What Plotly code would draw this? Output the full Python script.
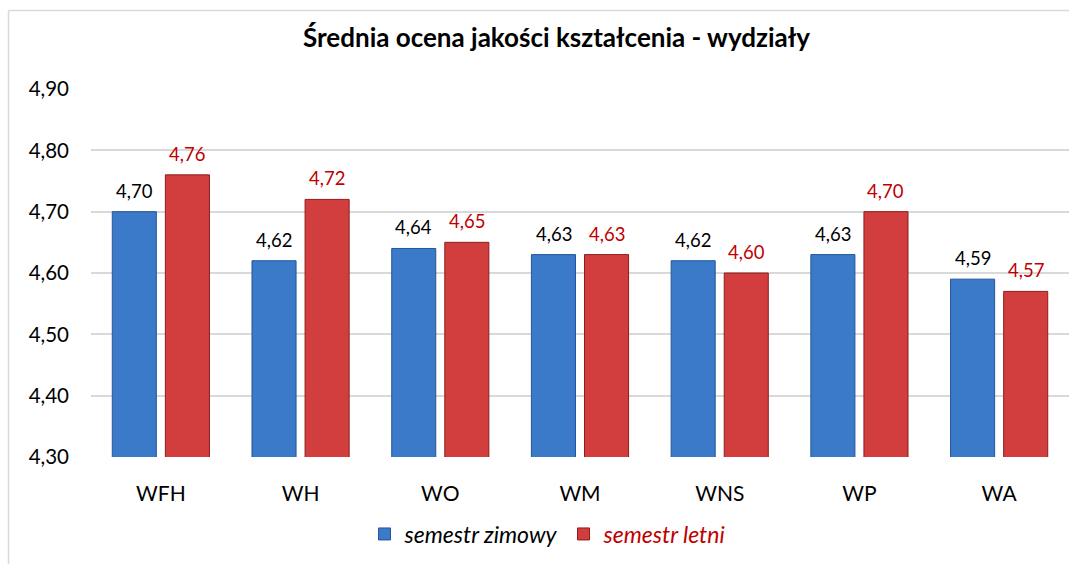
import plotly.graph_objects as go

categories = ["WFH", "WH", "WO", "WM", "WNS", "WP", "WA"]
semestr_zimowy = [4.70, 4.62, 4.64, 4.63, 4.62, 4.63, 4.59]
semestr_letni = [4.76, 4.72, 4.65, 4.63, 4.60, 4.70, 4.57]
y_ticks = [4.30, 4.40, 4.50, 4.60, 4.70, 4.80, 4.90]

FONT = "Lato"
BLUE = "#3A7AC8"
BLUE_EDGE = "#24569A"
RED = "#D23D3D"
RED_EDGE = "#8E1C1C"
LABEL_RED = "#C00000"

W, H = 1069, 564
PX_L, PX_R, PX_T, PX_B = 91, 1069, 89, 457


def px(x):
    return (x - PX_L) / (PX_R - PX_L)


def py(y):
    return (PX_B - y) / (PX_B - PX_T)


def fmt(v):
    return f"{v:.2f}".replace(".", ",")


fig = go.Figure()
fig.add_trace(go.Bar(
    x=categories, y=semestr_zimowy,
    name="<i>semestr zimowy</i>",
    marker=dict(color=BLUE, line=dict(color=BLUE_EDGE, width=1)),
))
fig.add_trace(go.Bar(
    x=categories, y=semestr_letni,
    name=f"<i><span style='color:{LABEL_RED}'>semestr letni</span></i>",
    marker=dict(color=RED, line=dict(color=RED_EDGE, width=1)),
))

annotations = []
for i, c in enumerate(categories):
    annotations.append(dict(x=c, y=semestr_zimowy[i], xref="x", yref="y",
                            text=fmt(semestr_zimowy[i]), showarrow=False,
                            xshift=-26.5, yshift=21, yanchor="middle",
                            font=dict(family=FONT, size=18.5, color="#000000")))
    annotations.append(dict(x=c, y=semestr_letni[i], xref="x", yref="y",
                            text=fmt(semestr_letni[i]), showarrow=False,
                            xshift=26.5, yshift=21, yanchor="middle",
                            font=dict(family=FONT, size=18.5, color=LABEL_RED)))

annotations.append(dict(
    text="<b>Średnia ocena jakości kształcenia - wydziały</b>",
    xref="paper", yref="paper", x=px(556), y=py(37),
    xanchor="center", yanchor="middle", showarrow=False,
    font=dict(family=FONT, size=26, color="#000000")))

border = dict(color="#D9D9D9", width=1.5)
fig.update_layout(
    width=W, height=H,
    margin=dict(l=PX_L, r=W - PX_R, t=PX_T, b=H - PX_B),
    paper_bgcolor="white", plot_bgcolor="white",
    font=dict(family=FONT, color="#000000"),
    separators=", ",
    barmode="group", bargap=0.24, bargroupgap=0.17,
    showlegend=True,
    legend=dict(orientation="h", x=px(548), xanchor="center",
                y=py(534), yanchor="middle",
                font=dict(family=FONT, size=23, color="#000000"),
                bgcolor="rgba(0,0,0,0)"),
    annotations=annotations,
    shapes=[
        dict(type="line", xref="paper", yref="paper",
             x0=px(8.5), x1=px(8.5), y0=py(564), y1=py(10.5),
             line=border, layer="below"),
        dict(type="line", xref="paper", yref="paper",
             x0=px(8.5), x1=px(1069), y0=py(10.5), y1=py(10.5),
             line=border, layer="below"),
    ],
)
fig.update_xaxes(showgrid=False, showline=False, ticks="",
                 tickfont=dict(family=FONT, size=21, color="#000000"),
                 ticklabelstandoff=22)
fig.update_yaxes(range=[4.30, 4.90], tickvals=y_ticks, tickformat=".2f",
                 showgrid=True, gridcolor="#D9D9D9", gridwidth=1.5,
                 zeroline=False, showline=False, ticks="",
                 tickfont=dict(family=FONT, size=20.5, color="#000000"),
                 ticklabelstandoff=21)

fig.write_html(
    "out.html",
    config={"displayModeBar": False},
    post_script="document.body.style.margin='0';document.body.style.overflow='hidden';",
)
